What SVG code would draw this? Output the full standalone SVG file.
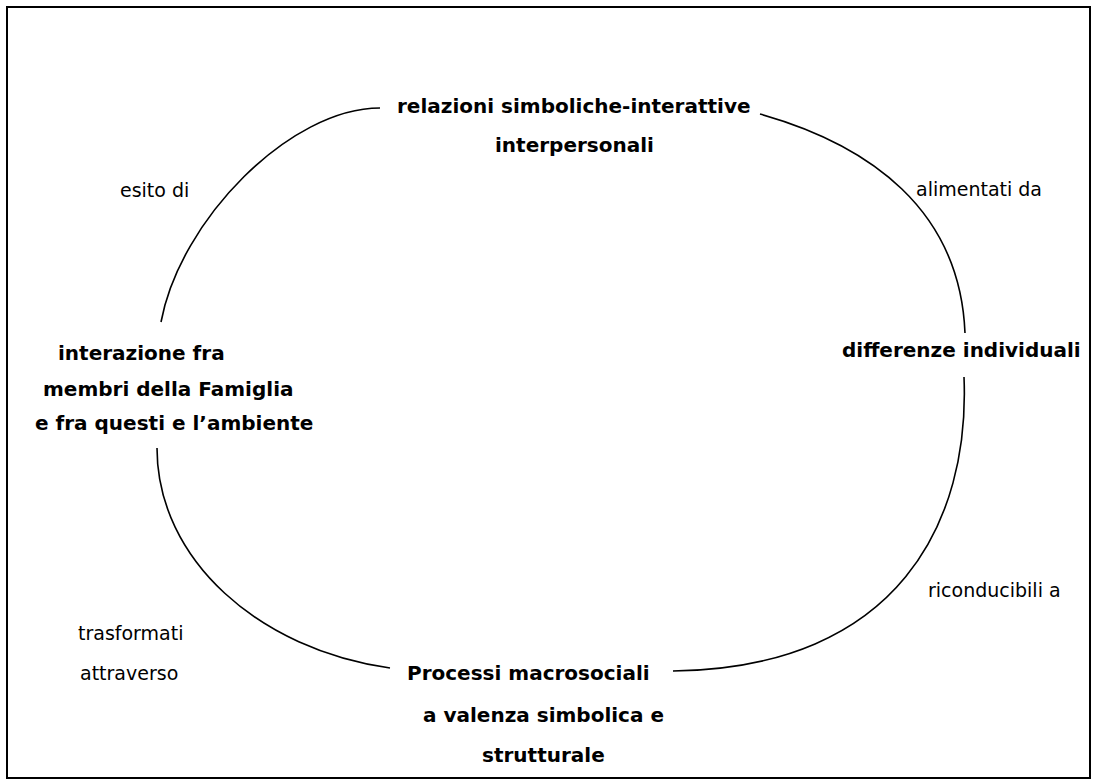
<svg xmlns="http://www.w3.org/2000/svg" width="1094" height="780" viewBox="0 0 1094 780">
<style>
.frame{fill:#fff;stroke:#000;stroke-width:2}
.n{font-family:"DejaVu Sans","Liberation Sans",sans-serif;font-weight:bold;font-size:20px;fill:#000}
.l{font-family:"DejaVu Sans","Liberation Sans",sans-serif;font-size:19px;fill:#000}
.c{fill:none;stroke:#000;stroke-width:1.6}
</style>
<rect class="frame" x="7" y="7" width="1083" height="771"/>
<g id="connectors">
<path class="c" d="M380,108 C290,108 180,220 161,322"/>
<path class="c" d="M760,114 C870,145 960,210 965,333"/>
<path class="c" d="M964,377 C970,520 900,668 673,671"/>
<path class="c" d="M157,448 C157,560 260,650 390,668"/>
<text class="l" x="120" y="197">esito di</text>
<text class="l" x="916" y="196">alimentati da</text>
<text class="l" x="928" y="597">riconducibili a</text>
<text class="l" x="78" y="640">trasformati</text>
<text class="l" x="80" y="680">attraverso</text>
</g>
<g id="node-relazioni">
<text class="n" x="397" y="113">relazioni simboliche-interattive</text>
<text class="n" x="495" y="152">interpersonali</text>
</g>
<g id="node-interazione">
<text class="n" x="58" y="360">interazione fra</text>
<text class="n" x="43" y="396">membri della Famiglia</text>
<text class="n" x="35" y="430">e fra questi e l’ambiente</text>
</g>
<g id="node-differenze">
<text class="n" x="842" y="357">differenze individuali</text>
</g>
<g id="node-processi">
<text class="n" x="407" y="680">Processi macrosociali</text>
<text class="n" x="423" y="722">a valenza simbolica e</text>
<text class="n" x="482" y="762">strutturale</text>
</g>
</svg>
